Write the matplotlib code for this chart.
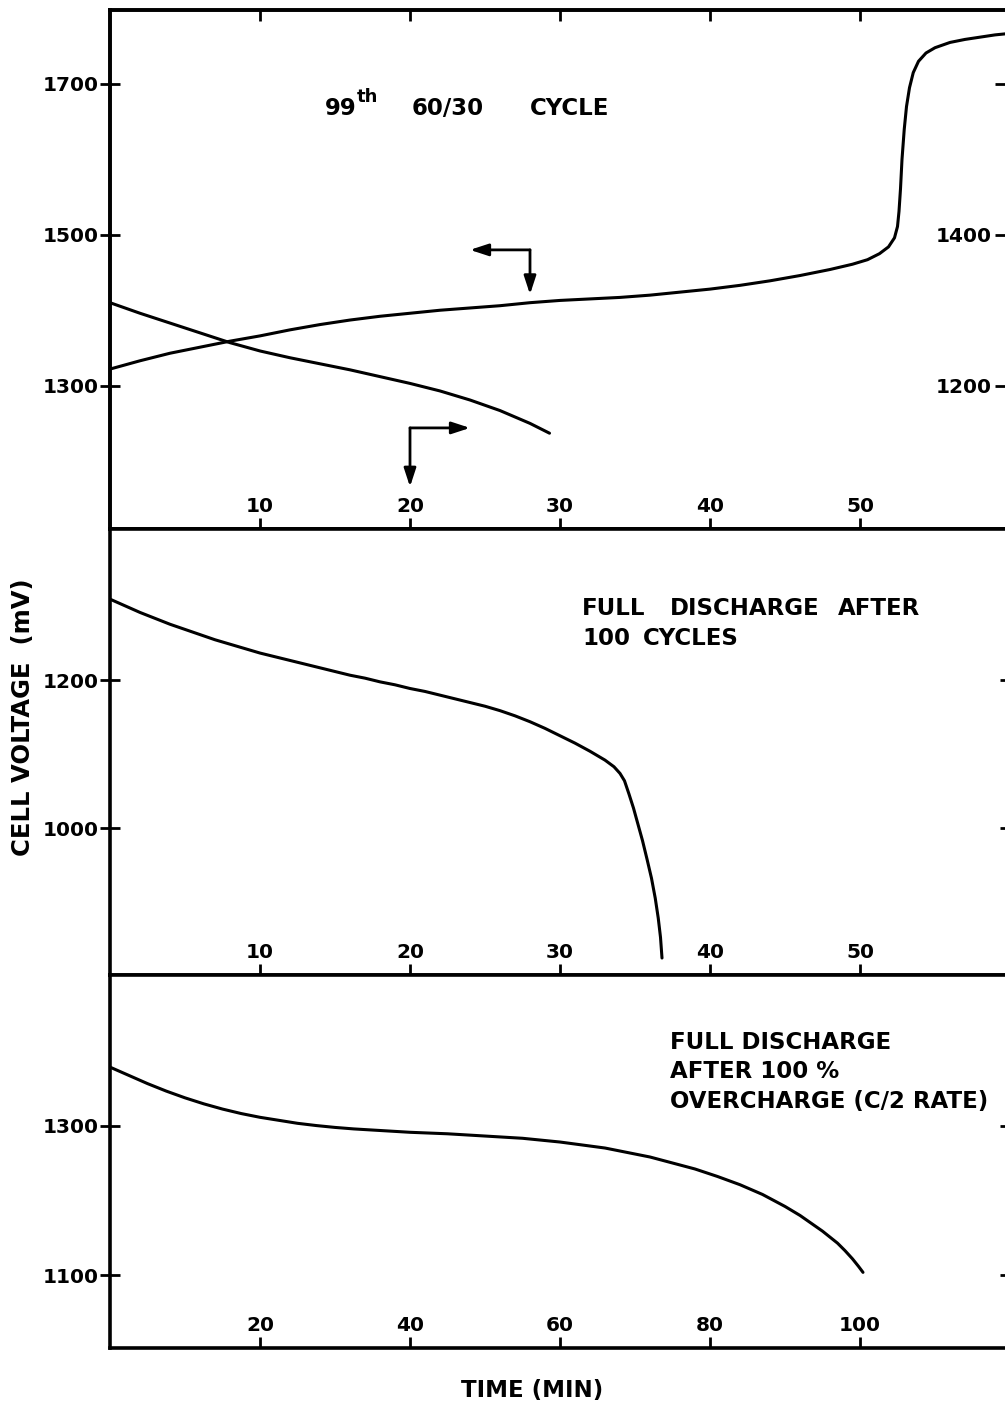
import matplotlib.pyplot as plt


W, H = 1005, 1405
DPI = 100

# 99th 60/30 cycle: charge curve (left scale) and discharge curve (right scale)
cycle_charge_t = [0, 2, 4, 6, 8, 10, 12, 14, 16, 18, 20, 22, 24, 26, 28, 30,
                  32, 34, 36, 38, 40, 42, 44, 46, 48, 49.5, 50.5, 51.3, 51.9,
                  52.3, 52.5, 52.6, 52.7, 52.8, 52.95, 53.1, 53.3, 53.55,
                  53.9, 54.4, 55, 56, 57, 58, 59, 60]
cycle_charge_mv = [1322, 1333, 1343, 1351, 1359, 1366, 1374, 1381, 1387, 1392,
                   1396, 1400, 1403, 1406, 1410, 1413, 1415, 1417, 1420, 1424,
                   1428, 1433, 1439, 1446, 1454, 1461, 1467, 1475, 1484, 1496,
                   1511, 1531, 1561, 1600, 1640, 1670, 1695, 1715, 1730, 1741,
                   1748, 1755, 1759, 1762, 1765, 1767]

cycle_dis_t = [0, 2, 4, 6, 8, 10, 12, 14, 16, 18, 20, 22, 24, 26, 28, 29.3]
cycle_dis_mv = [1310, 1296, 1283, 1270, 1257, 1246, 1237, 1229, 1221, 1212,
                1203, 1193, 1181, 1167, 1150, 1137]

# full discharge after 100 cycles
full_t = [0, 1, 2, 3, 4, 5, 6, 7, 8, 9, 10, 11, 12, 13, 14, 15, 16, 17, 18,
          19, 20, 21, 22, 23, 24, 25, 26, 27, 28, 29, 30, 31, 32, 33, 33.6,
          34, 34.3, 34.6, 34.9, 35.2, 35.5, 35.8, 36.1, 36.35, 36.55, 36.7,
          36.8]
full_mv = [1310, 1301, 1292, 1284, 1276, 1269, 1262, 1255, 1249, 1243, 1237,
           1232, 1227, 1222, 1217, 1212, 1207, 1203, 1198, 1194, 1189, 1185,
           1180, 1175, 1170, 1165, 1159, 1152, 1144, 1135, 1125, 1115, 1104,
           1092, 1083, 1074, 1064, 1046, 1027, 1005, 983, 958, 932, 905, 878,
           852, 824]

# full discharge after 100 % overcharge
over_t = [0, 2.5, 5, 7.5, 10, 12.5, 15, 17.5, 20, 22.5, 25, 27.5, 30, 32.5,
          35, 37.5, 40, 45, 50, 55, 60, 63, 66, 69, 72, 75, 78, 81, 84, 87,
          90, 92, 94, 95, 96, 97, 98, 99, 99.8, 100.4]
over_mv = [1378, 1367, 1356, 1346, 1337, 1329, 1322, 1316, 1311, 1307, 1303,
           1300, 1297.5, 1295.5, 1294, 1292.5, 1291, 1289, 1286, 1283, 1278,
           1274, 1270, 1264, 1258, 1250, 1242, 1232, 1221, 1208, 1192, 1180,
           1166, 1159, 1151, 1143, 1133, 1122, 1112, 1104]

# direction markers: corner, horizontal head, vertical head
charge_arrow = (28, 1480, 24, 1421)
dis_arrow = (20, 1144, 24, 1066)

top_xticks = [10, 20, 30, 40, 50]
bottom_xticks = [20, 40, 60, 80, 100]

LINE_W = 2.2
SPINE_W = 2.6
TICK_FS = 14.5
NOTE_FS = 16.5

plt.rcParams["font.family"] = ["DejaVu Sans"]
plt.rcParams["font.weight"] = "bold"


def fig_xy(px, py):
    return px / W, 1 - py / H


def note(px, py, s, **kw):
    kw.setdefault("fontsize", NOTE_FS)
    fig.text(*fig_xy(px, py), s, **kw)


def panel(fig, top_px, bottom_px):
    x0, y0 = fig_xy(110, bottom_px)
    ax = fig.add_axes([x0, y0, 900 / W, (bottom_px - top_px) / H])
    for s in ax.spines.values():
        s.set_linewidth(SPINE_W)
    ax.tick_params(axis="y", direction="inout", length=14, width=2,
                   pad=1, labelsize=TICK_FS)
    ax.tick_params(axis="x", direction="in", length=8, width=2,
                   pad=-23, labelsize=TICK_FS)
    return ax


def draw_arrow(ax, corner, head):
    ax.annotate(
        "",
        xy=head,
        xytext=corner,
        arrowprops=dict(
            arrowstyle="-|>,head_length=0.55,head_width=0.18",
            mutation_scale=20,
            lw=2,
            color="black",
            shrinkA=0,
            shrinkB=0,
        ),
    )


fig = plt.figure(figsize=(W / DPI, H / DPI), dpi=DPI)

# ---- top panel
ax1 = panel(fig, 10, 529)
ax1.plot(cycle_charge_t, cycle_charge_mv, color="black", lw=LINE_W,
         solid_capstyle="round", solid_joinstyle="round")
ax1.set_xlim(0, 60)
ax1.set_ylim(1110, 1798)
ax1.set_yticks([1300, 1500, 1700])
ax1.set_xticks(top_xticks)
ax1.tick_params(axis="x", top=True)

ax1r = ax1.twinx()
ax1r.plot(cycle_dis_t, cycle_dis_mv, color="black", lw=LINE_W,
          solid_capstyle="round", solid_joinstyle="round")
ax1r.set_ylim(1010, 1698)
ax1r.set_yticks([1200, 1400, 1600])
ax1r.set_yticklabels(["1200", "1400", ""])
ax1r.tick_params(axis="y", direction="in", length=11, width=2, pad=-13,
                 labelsize=TICK_FS)
for lbl in ax1r.get_yticklabels():
    lbl.set_horizontalalignment("right")
for s in ax1r.spines.values():
    s.set_linewidth(SPINE_W)

cx, cy, hx, hy = charge_arrow
draw_arrow(ax1, (cx, cy), (hx, cy))
draw_arrow(ax1, (cx, cy), (cx, hy))
cx, cy, hx, hy = dis_arrow
draw_arrow(ax1r, (cx, cy), (hx, cy))
draw_arrow(ax1r, (cx, cy), (cx, hy))

note(325, 115, "99")
note(357, 102, "th", fontsize=13)
note(412, 115, "60/30")
note(530, 115, "CYCLE")

# ---- middle panel
ax2 = panel(fig, 529, 975)
ax2.plot(full_t, full_mv, color="black", lw=LINE_W,
         solid_capstyle="round", solid_joinstyle="round")
ax2.set_xlim(0, 60)
ax2.set_ylim(801, 1405)
ax2.set_yticks([1000, 1200])
ax2.set_xticks(top_xticks)
ax2.tick_params(axis="y", right=True)

note(582, 615, "FULL")
note(670, 615, "DISCHARGE")
note(838, 615, "AFTER")
note(582, 645, "100")
note(643, 645, "CYCLES")

# ---- bottom panel
ax3 = panel(fig, 975, 1348)
ax3.plot(over_t, over_mv, color="black", lw=LINE_W,
         solid_capstyle="round", solid_joinstyle="round")
ax3.set_xlim(0, 120)
ax3.set_ylim(1003, 1501)
ax3.set_yticks([1100, 1300])
ax3.set_xticks(bottom_xticks)
ax3.tick_params(axis="y", right=True)

note(670, 1049, "FULL DISCHARGE")
note(670, 1078, "AFTER 100 %")
note(670, 1108, "OVERCHARGE (C/2 RATE)")

# shared axis titles
note(532, 1397, "TIME (MIN)", fontsize=16.5, ha="center")
note(23, 717, "CELL VOLTAGE  (mV)", fontsize=17.5, rotation=90,
     ha="center", va="center")

fig.savefig("out.png", dpi=DPI)
